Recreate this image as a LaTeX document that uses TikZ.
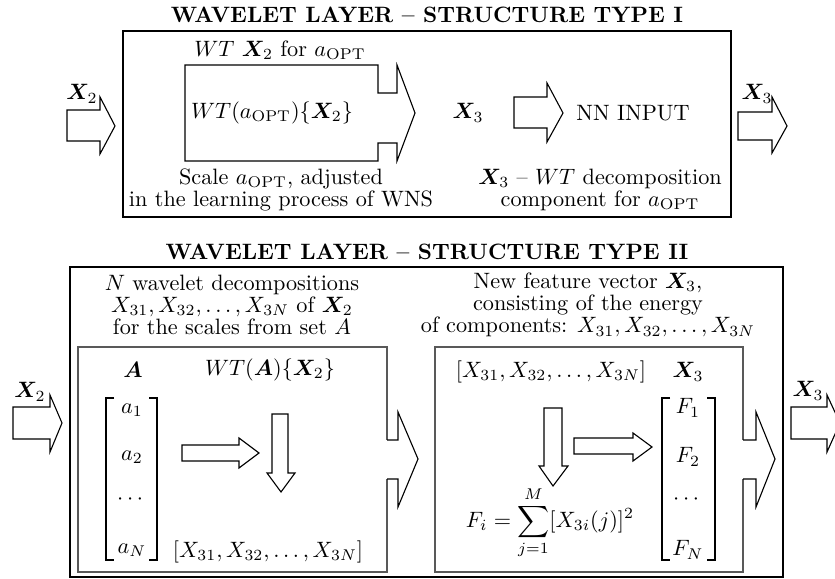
\documentclass[tikz,border=0pt]{standalone}
\usepackage{amsmath}
\usepackage{bm}
\usepackage{tikz}

\begin{document}
\begin{tikzpicture}[
    x=0.45pt, y=-0.45pt,
    frame/.style={draw, line width=1.3pt},
    inbox/.style={draw=black!65, line width=0.6pt},
    blk/.style={draw, line width=0.5pt, line join=miter},
    brk/.style={line width=0.8pt},
    title/.style={font=\bfseries},
    txt/.style={align=center, font=\fontsize{10}{10}\selectfont, inner sep=1pt},
]
\useasboundingbox (0,0) rectangle (835,579);

% ── Structure type I ───────────────────────────────────────────────────────
\node[title] (t1) at (427,15) {WAVELET LAYER -- STRUCTURE TYPE I};
\draw[frame] (123,31) rectangle (731,217);

\draw[blk] (67,110) -- (100,110) -- (100,97) -- (115,126) -- (100,154) -- (100,141) -- (67,141) -- cycle;
\node (x2a) at (82,94) {$\bm{X}_2$};

\draw[blk] (185,65) -- (378,65) -- (378,93) -- (397,93) -- (397,65) -- (415,113)
    -- (397,161) -- (397,143) -- (378,143) -- (378,161) -- (185,161) -- cycle;
\node (wtt) at (280,50) {$WT$ $\bm{X}_2$ for $a_{\mathrm{OPT}}$};
\node (wt)  at (272,113) {$WT(a_{\mathrm{OPT}})\{\bm{X}_2\}$};
\node[txt] (scale) at (281,190) {Scale $a_{\mathrm{OPT}}$, adjusted\\in the learning process of WNS};

\node (x3a) at (468,113) {$\bm{X}_3$};
\draw[blk] (514,97) -- (547,97) -- (547,83) -- (563,113) -- (547,142) -- (547,128) -- (514,128) -- cycle;
\node (nn) at (633,113) {NN INPUT};
\node[txt] (comp) at (600,190) {$\bm{X}_3$ -- $WT$ decomposition\\component for $a_{\mathrm{OPT}}$};

\draw[blk] (738,112) -- (772,112) -- (772,97) -- (787,126) -- (772,153) -- (772,140) -- (738,140) -- cycle;
\node (x3b) at (757,94) {$\bm{X}_3$};

% ── Structure type II ──────────────────────────────────────────────────────
\node[title] (t2) at (427,252) {WAVELET LAYER -- STRUCTURE TYPE II};
\draw[frame] (70,267) rectangle (783,577);

\draw[blk] (13,407) -- (50,407) -- (50,395) -- (62,423) -- (50,452) -- (50,439) -- (13,439) -- cycle;
\node (x2b) at (30,392) {$\bm{X}_2$};

\node[txt] (ndec) at (232,305) {$N$ wavelet decompositions\\$X_{31},X_{32},\ldots,X_{3N}$ of $\bm{X}_2$\\for the scales from set $A$};
\node[txt] (feat) at (588,305) {New feature vector $\bm{X}_3$,\\consisting of the energy\\of components: $X_{31},X_{32},\ldots,X_{3N}$};

% left panel: decomposition
\draw[inbox] (387,440) -- (387,347) -- (78,347) -- (78,572) -- (387,572) -- (387,479);
\draw[blk] (387,440) -- (398,440) -- (398,412) -- (418,459) -- (398,507) -- (398,479) -- (387,479);

\node (seta) at (133,370) {$\bm{A}$};
\node (wta)  at (270,370) {$WT(\bm{A})\{\bm{X}_2\}$};
\draw[brk] (114,398) -- (106,398) -- (106,560) -- (114,560);
\draw[brk] (149,398) -- (157,398) -- (157,560) -- (149,560);
\node (a1) at (132,410) {$a_1$};
\node (a2) at (132,457) {$a_2$};
\node (ad) at (132,500) {$\cdots$};
\node (aN) at (132,550) {$a_N$};

\draw[blk] (182,445) -- (239,445) -- (239,438) -- (259,453) -- (239,468) -- (239,461) -- (182,461) -- cycle;
\draw[blk] (272,414) -- (288,414) -- (288,473) -- (295,473) -- (281,492) -- (267,473) -- (272,473) -- cycle;
\node (xl) at (268,552) {$[X_{31},X_{32},\ldots,X_{3N}]$};

% right panel: energy features
\draw[inbox] (743,440) -- (743,347) -- (435,347) -- (435,572) -- (743,572) -- (743,479);
\draw[blk] (743,440) -- (756,440) -- (756,412) -- (775,459) -- (756,507) -- (756,479) -- (743,479);

\node (xr)  at (551,372) {$[X_{31},X_{32},\ldots,X_{3N}]$};
\node (x3d) at (688,372) {$\bm{X}_3$};
\draw[blk] (544,408) -- (562,408) -- (562,466) -- (568,466) -- (553,486) -- (539,466) -- (544,466) -- cycle;
\draw[blk] (574,438) -- (633,438) -- (633,433) -- (652,447) -- (633,461) -- (633,454) -- (574,454) -- cycle;
\node[inner sep=0pt] (fi) at (550,523) {$F_i=\displaystyle\sum_{j=1}^{M}[X_{3i}(j)]^2$};

\draw[brk] (670,398) -- (662,398) -- (662,560) -- (670,560);
\draw[brk] (707,398) -- (715,398) -- (715,560) -- (707,560);
\node (f1) at (688,408) {$F_1$};
\node (f2) at (688,457) {$F_2$};
\node (fd) at (688,500) {$\cdots$};
\node (fN) at (688,550) {$F_N$};

\draw[blk] (791,407) -- (827,407) -- (827,395) -- (840,423) -- (827,452) -- (827,439) -- (791,439) -- cycle;
\node (x3c) at (808,391) {$\bm{X}_3$};

\end{tikzpicture}
\end{document}
